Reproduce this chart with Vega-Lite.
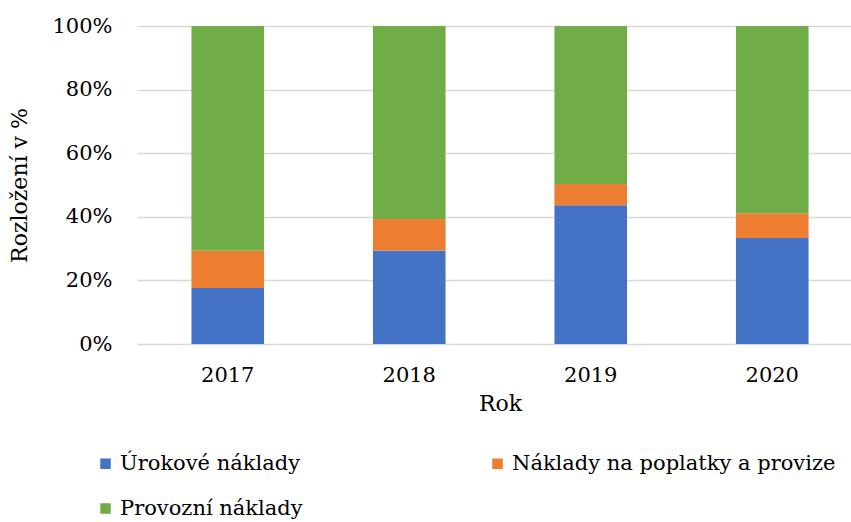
{
  "$schema": "https://vega.github.io/schema/vega-lite/v6.json",
  "autosize": {"type": "none"},
  "padding": {"left": 137, "top": 26, "right": 0, "bottom": 178},
  "width": 714,
  "height": 318,
  "background": "white",
  "data": {
    "values": [
      {"rok": "2017", "typ": "Úrokové náklady", "poradi": 1, "podil": 17.6},
      {"rok": "2017", "typ": "Náklady na poplatky a provize", "poradi": 2, "podil": 11.7},
      {"rok": "2017", "typ": "Provozní náklady", "poradi": 3, "podil": 70.7},
      {"rok": "2018", "typ": "Úrokové náklady", "poradi": 1, "podil": 29.4},
      {"rok": "2018", "typ": "Náklady na poplatky a provize", "poradi": 2, "podil": 9.9},
      {"rok": "2018", "typ": "Provozní náklady", "poradi": 3, "podil": 60.7},
      {"rok": "2019", "typ": "Úrokové náklady", "poradi": 1, "podil": 43.6},
      {"rok": "2019", "typ": "Náklady na poplatky a provize", "poradi": 2, "podil": 6.7},
      {"rok": "2019", "typ": "Provozní náklady", "poradi": 3, "podil": 49.7},
      {"rok": "2020", "typ": "Úrokové náklady", "poradi": 1, "podil": 33.3},
      {"rok": "2020", "typ": "Náklady na poplatky a provize", "poradi": 2, "podil": 7.8},
      {"rok": "2020", "typ": "Provozní náklady", "poradi": 3, "podil": 58.9}
    ]
  },
  "config": {
    "view": {"stroke": null},
    "font": "DejaVu Serif"
  },
  "mark": {"type": "bar"},
  "encoding": {
    "x": {
      "field": "rok",
      "type": "nominal",
      "scale": {"range": [0, 726], "paddingInner": 0.6, "paddingOuter": 0.3},
      "axis": {
        "title": "Rok",
        "titleFont": "DejaVu Serif",
        "titleFontSize": 22,
        "titleFontWeight": "normal",
        "titleColor": "#000000",
        "titlePadding": 8,
        "labelAngle": 0,
        "labelFontSize": 21,
        "labelColor": "#000000",
        "labelPadding": 20,
        "domain": false,
        "ticks": false
      }
    },
    "y": {
      "field": "podil",
      "type": "quantitative",
      "stack": "zero",
      "scale": {"domain": [0, 100], "nice": false},
      "axis": {
        "title": "Rozložení v %",
        "titleFont": "DejaVu Serif",
        "titleFontSize": 22,
        "titleFontWeight": "normal",
        "titleColor": "#000000",
        "titlePadding": 20,
        "values": [0, 20, 40, 60, 80, 100],
        "labelExpr": "datum.value + '%'",
        "labelFontSize": 21,
        "labelColor": "#000000",
        "labelPadding": 25,
        "domain": false,
        "ticks": false,
        "grid": true,
        "gridColor": "#d9d9d9",
        "gridWidth": 1.5
      }
    },
    "color": {
      "field": "typ",
      "type": "nominal",
      "scale": {
        "domain": ["Úrokové náklady", "Náklady na poplatky a provize", "Provozní náklady"],
        "range": ["#4472C4", "#ED7D31", "#70AD47"]
      },
      "legend": {
        "title": null,
        "orient": "none",
        "legendX": -42,
        "legendY": 427,
        "direction": "horizontal",
        "columns": 2,
        "columnPadding": 184,
        "rowPadding": 23,
        "symbolType": "square",
        "symbolSize": 110,
        "symbolStrokeWidth": 0,
        "symbolOpacity": 1,
        "labelFontSize": 21,
        "labelFont": "DejaVu Serif",
        "labelColor": "#000000",
        "labelOffset": 4,
        "labelLimit": 400
      }
    },
    "order": {"field": "poradi", "type": "quantitative"}
  }
}
